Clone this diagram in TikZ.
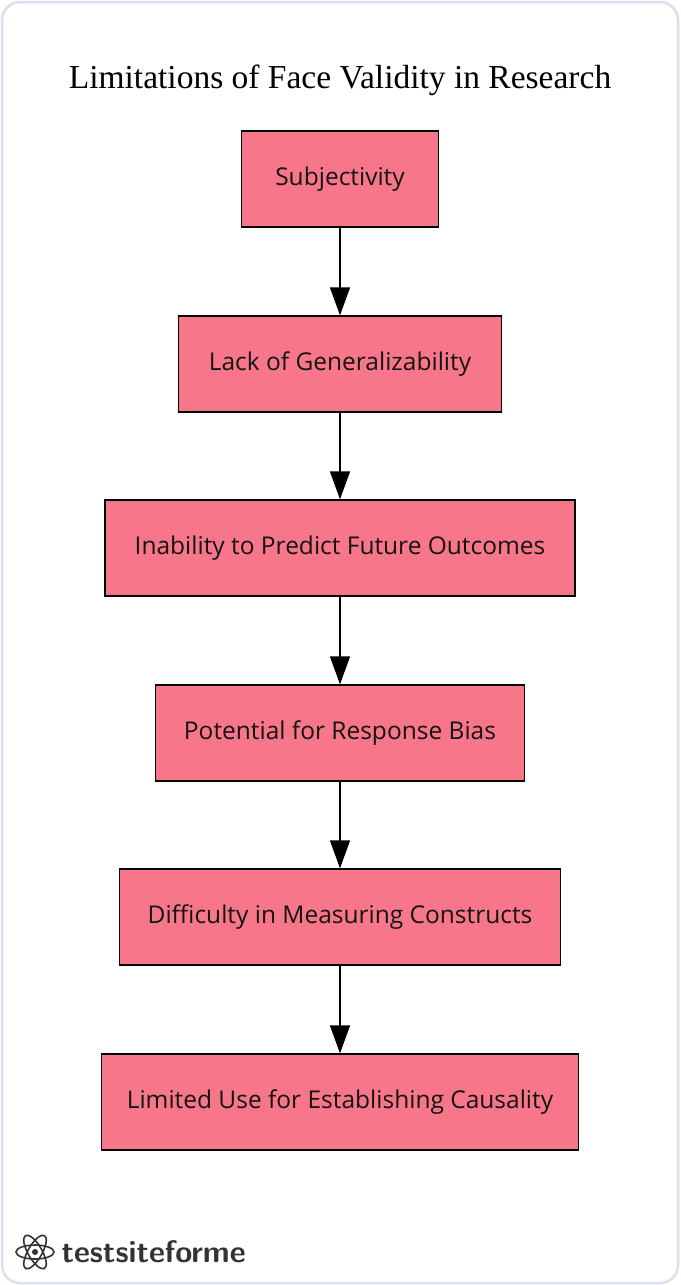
\documentclass[tikz,border=0pt]{standalone}
\usepackage{fontspec}
\setmainfont{Liberation Serif}
\newfontfamily\boxfont{Open Sans}
\usetikzlibrary{arrows.meta,positioning}
\definecolor{limitpink}{RGB}{248,118,137}
\definecolor{frameblue}{RGB}{218,224,238}
\tikzset{
  limitbox/.style={draw=black,line width=1.3pt,fill=limitpink,minimum height=96pt,
    inner xsep=0pt,font=\boxfont\fontsize{24.5}{28}\selectfont,text=black!92},
  flow/.style={line width=1.3pt,-{Triangle[length=28pt,width=20pt]}}
}
\begin{document}
\begin{tikzpicture}[x=1pt,y=1pt]
      \useasboundingbox (0,0) rectangle (680,-1285);
      \draw[frameblue,line width=2.5pt,fill=white,rounded corners=18pt] (2,-2) rectangle (678,-1283);

      \node[font=\fontsize{33.5}{38}\selectfont] (title) at (340,-80) {Limitations of Face Validity in Research};

      \node[limitbox,minimum width=197pt] (subj) at (340,-179) {Subjectivity};
      \node[limitbox,minimum width=323pt] (gen) at (340,-364) {Lack of Generalizability};
      \node[limitbox,minimum width=470pt] (pred) at (340,-548) {Inability to Predict Future Outcomes};
      \node[limitbox,minimum width=369pt] (bias) at (340,-733) {Potential for Response Bias};
      \node[limitbox,minimum width=441pt] (meas) at (340,-917) {Difficulty in Measuring Constructs};
      \node[limitbox,minimum width=477pt] (caus) at (340,-1102) {Limited Use for Establishing Causality};

      \foreach \a/\b in {subj/gen,gen/pred,pred/bias,bias/meas,meas/caus}
      {\draw[flow] (\a) -- (\b);}

      % logo
      \begin{scope}[shift={(35,-1252)},line width=1.6pt,black!80]
       \foreach \r in {0,60,120}
       {\draw[rotate=\r] (0,0) ellipse (19pt and 7pt);}
       \fill (0,0) circle (3pt);
      \end{scope}
      \node[anchor=west,font=\fontsize{31}{36}\selectfont\bfseries\sffamily,text=black!80] (logo) at (58,-1252) {testsiteforme};
\end{tikzpicture}
\end{document}
